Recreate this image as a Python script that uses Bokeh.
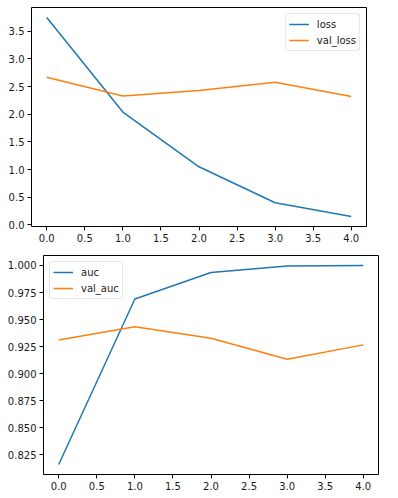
from bokeh.plotting import figure
from bokeh.layouts import column, row
from bokeh.models import Range1d, FixedTicker, NumeralTickFormatter, Legend, LegendItem
from bokeh.embed import file_html
from bokeh.resources import INLINE

epochs = [0, 1, 2, 3, 4]
loss = [3.75, 2.04, 1.05, 0.40, 0.15]
val_loss = [2.67, 2.33, 2.43, 2.58, 2.32]
auc = [0.816, 0.969, 0.9935, 0.9995, 1.0]
val_auc = [0.931, 0.9433, 0.9328, 0.9133, 0.9266]

x_ticks = [0.0, 0.5, 1.0, 1.5, 2.0, 2.5, 3.0, 3.5, 4.0]
loss_ticks = [0.0, 0.5, 1.0, 1.5, 2.0, 2.5, 3.0, 3.5]
auc_ticks = [0.825, 0.850, 0.875, 0.900, 0.925, 0.950, 0.975, 1.000]

BLUE = "#1f77b4"
ORANGE = "#ff7f0e"
FONT = "DejaVu Sans"


def padded(vals, frac=0.05):
    lo, hi = min(vals), max(vals)
    span = hi - lo
    return Range1d(lo - frac * span, hi + frac * span)


def make_fig(s1, s2, names, yticks, yfmt, loc, width, height, borders):
    left, right, top, bottom = borders
    p = figure(
        width=width, height=height,
        x_range=padded(epochs), y_range=padded(s1 + s2),
        output_backend="svg", toolbar_location=None, title=None,
        min_border_left=left, min_border_right=right,
        min_border_top=top, min_border_bottom=bottom,
    )
    p.xgrid.visible = False
    p.ygrid.visible = False
    p.outline_line_color = "black"
    p.outline_line_width = 1
    p.outline_line_alpha = 1
    p.background_fill_color = "white"
    p.border_fill_color = "white"
    for ax in (p.xaxis[0], p.yaxis[0]):
        ax.axis_line_color = None
        ax.major_tick_line_color = "black"
        ax.major_tick_out = 4
        ax.major_tick_in = 0
        ax.minor_tick_line_color = None
        ax.major_label_standoff = 3
        ax.major_label_text_font = FONT
        ax.major_label_text_font_size = "10px"
        ax.major_label_text_color = "#1a1a1a"
    p.xaxis[0].ticker = FixedTicker(ticks=x_ticks)
    p.xaxis[0].formatter = NumeralTickFormatter(format="0.0")
    p.yaxis[0].ticker = FixedTicker(ticks=yticks)
    p.yaxis[0].formatter = NumeralTickFormatter(format=yfmt)

    r1 = p.line(epochs, s1, line_color=BLUE, line_width=1.5)
    r2 = p.line(epochs, s2, line_color=ORANGE, line_width=1.5)
    legend = Legend(
        items=[LegendItem(label=names[0], renderers=[r1]),
               LegendItem(label=names[1], renderers=[r2])],
        location=loc, margin=6, padding=3, spacing=2,
        glyph_width=20, glyph_height=14, label_height=14,
        label_standoff=8,
        label_text_font=FONT, label_text_font_size="10px",
        label_text_color="#1a1a1a",
        border_line_color="#cccccc", border_line_width=1,
        background_fill_color="white", background_fill_alpha=0.8,
    )
    try:
        legend.border_radius = 3
    except Exception:
        pass
    p.add_layout(legend, "center")
    return p


# top: frame x 31..366, y 7..226 ; bottom: frame x 43..378, y 255..474
p1 = make_fig(loss, val_loss, ["loss", "val_loss"], loss_ticks, "0.0",
              "top_right", 398, 255, (31, 32, 7, 29))
p2 = make_fig(auc, val_auc, ["auc", "val_auc"], auc_ticks, "0.000",
              "top_left", 398, 243, (43, 20, 0, 24))

layout = column(row(p1), row(p2), spacing=0)
open("out.html", "w").write(file_html(layout, INLINE))
